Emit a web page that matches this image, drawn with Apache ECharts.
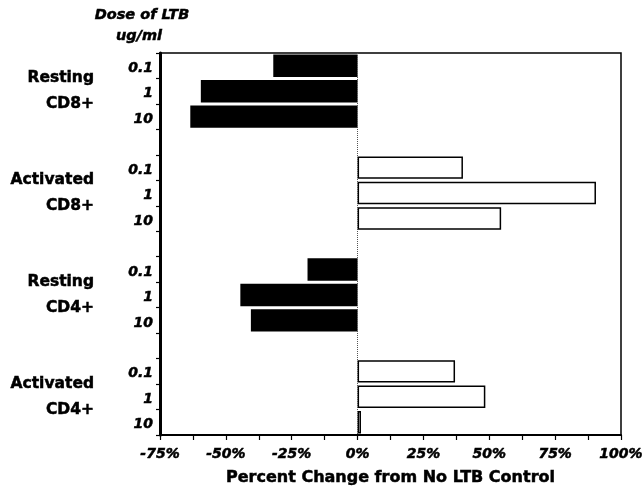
<!DOCTYPE html>
<html>
<head>
<meta charset="utf-8">
<script src="https://cdn.jsdelivr.net/npm/echarts@6/dist/echarts.min.js"></script>
<style>html,body{margin:0;padding:0;background:#fff}#c{width:644px;height:488px}</style>
</head>
<body>
<div id="c"></div>
<script>
// ---- data ----
var doseLabels = ['0.1', '1', '10'];
var groupNames = ['Resting\nCD8+', 'Activated\nCD8+', 'Resting\nCD4+', 'Activated\nCD4+'];
var groupActivated = [false, true, false, true];
var restingCD8 = [-32, -59.5, -63.5];
var activatedCD8 = [40, 90.5, 54.5];
var restingCD4 = [-19, -44.5, -40.5];
var activatedCD4 = [37, 48.5, 1.3];
var groupValues = [restingCD8, activatedCD8, restingCD4, activatedCD4];

// ---- build category slots (3 doses per group, blank slot between groups) ----
var cats = [], doseText = [], groupText = [], seriesData = [];
groupValues.forEach(function (vals, g) {
  vals.forEach(function (v, d) {
    cats.push('g' + g + 'd' + d);
    doseText.push(doseLabels[d]);
    groupText.push(d === 1 ? groupNames[g] : '');
    seriesData.push({
      value: v,
      itemStyle: groupActivated[g]
        ? { color: '#fff', borderColor: '#000', borderWidth: 1.5 }
        : { color: '#000', borderColor: '#000', borderWidth: 0 }
    });
  });
  if (g < groupValues.length - 1) {
    cats.push('gap' + g);
    doseText.push('');
    groupText.push('');
    seriesData.push('-');
  }
});

var FONT = 'DejaVu Sans';
var THICK = { textBorderColor: '#000', textBorderWidth: 0.5 };
var chart = echarts.init(document.getElementById('c'));
chart.setOption({
  animation: false,
  backgroundColor: '#fff',
  grid: { left: 160, right: 23, top: 53, bottom: 53, outerBoundsMode: 'none', containLabel: false, show: true, borderColor: '#000', borderWidth: 1.5, backgroundColor: 'transparent' },
  xAxis: {
    type: 'value', min: -75, max: 100, interval: 25,
    splitLine: { show: false },
    axisLine: { show: true, onZero: false, lineStyle: { color: '#000', width: 2 } },
    axisTick: { show: true, inside: false, length: 5, lineStyle: { color: '#000', width: 1.2 } },
    minorTick: { show: true, splitNumber: 2, length: 5, lineStyle: { color: '#000', width: 1.2 } },
    axisLabel: Object.assign({
      margin: 12, color: '#000', fontFamily: FONT, fontSize: 14, fontWeight: 'bold', fontStyle: 'italic',
      formatter: function (v) { return v + '%'; }
    }, THICK),
    name: 'Percent Change from No LTB Control',
    nameLocation: 'middle', nameGap: 35,
    nameTextStyle: Object.assign({ color: '#000', fontFamily: FONT, fontSize: 16, fontWeight: 'bold' }, THICK)
  },
  yAxis: [{
    type: 'category', data: cats, inverse: true, position: 'left', z: 10,
    axisLine: { show: true, onZero: false, lineStyle: { color: '#000', width: 3 } },
    axisTick: { show: true, inside: false, length: 4, alignWithLabel: false, interval: 0, lineStyle: { color: '#000', width: 1.2 } },
    splitLine: { show: false },
    axisLabel: Object.assign({
      interval: 0, margin: 7, color: '#000', fontFamily: FONT, fontSize: 14, fontWeight: 'bold', fontStyle: 'italic',
      formatter: function (v, i) { return '{d|' + doseText[i] + '}'; },
      rich: { d: Object.assign({ color: '#000', fontFamily: FONT, fontSize: 14, fontWeight: 'bold', fontStyle: 'italic', padding: [5, 0, 0, 0] }, THICK) }
    }, THICK)
  }, {
    type: 'category', data: cats, inverse: true, position: 'left',
    axisLine: { show: false, onZero: false },
    axisTick: { show: false }, splitLine: { show: false },
    axisLabel: Object.assign({
      interval: 0, margin: 66, color: '#000', fontFamily: FONT, fontSize: 15.5, fontWeight: 'bold',
      lineHeight: 26, align: 'right',
      formatter: function (v, i) { return groupText[i]; }
    }, THICK)
  }],
  graphic: [
    { type: 'text', style: { x: 142, y: 15, text: 'Dose of LTB', textAlign: 'center', textVerticalAlign: 'middle', fill: '#000', stroke: '#000', lineWidth: 0.5, font: 'italic bold 14.5px "DejaVu Sans"' } },
    { type: 'text', style: { x: 139, y: 36, text: 'ug/ml', textAlign: 'center', textVerticalAlign: 'middle', fill: '#000', stroke: '#000', lineWidth: 0.5, font: 'italic bold 14.5px "DejaVu Sans"' } }
  ],
  series: [{
    type: 'bar', data: seriesData, barCategoryGap: '12%',
    markLine: {
      silent: true, symbol: 'none', label: { show: false },
      lineStyle: { color: '#555', type: 'dotted', width: 1 },
      data: [{ xAxis: 0 }]
    }
  }]
});
</script>
</body>
</html>
